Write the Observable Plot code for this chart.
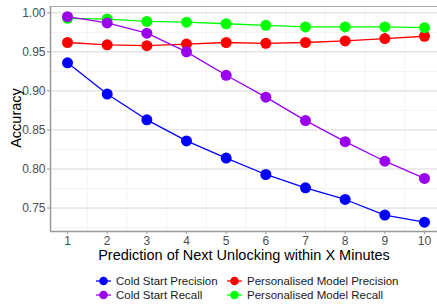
<!DOCTYPE html>
<html>
<head>
<meta charset="utf-8">
<script src="https://cdn.jsdelivr.net/npm/d3@7"></script>
<script src="https://cdn.jsdelivr.net/npm/@observablehq/plot@0.6"></script>
<style>
  body { margin: 0; background: #fff; font-family: "Liberation Sans", Arial, sans-serif; }
  #wrap { width: 437px; height: 307px; position: relative; }
  .legend { position: absolute; left: 0; top: 274px; width: 437px; font-size: 11.5px; color: #1a1a1a; }
  .item { position: absolute; display: flex; align-items: center; white-space: nowrap; height: 14px; }
  .item svg { margin-right: 4px; }
</style>
</head>
<body>
<div id="wrap"></div>
<script>
const minutes = [1, 2, 3, 4, 5, 6, 7, 8, 9, 10];
const seriesNames = ["Cold Start Precision", "Cold Start Recall", "Personalised Model Precision", "Personalised Model Recall"];
const seriesColors = ["#0000FF", "#9B00EE", "#FF0000", "#00FF00"];
const coldStartPrecision = [0.936, 0.896, 0.863, 0.836, 0.814, 0.793, 0.776, 0.761, 0.741, 0.732];
const coldStartRecall = [0.995, 0.987, 0.974, 0.950, 0.920, 0.892, 0.862, 0.835, 0.810, 0.788];
const personalisedPrecision = [0.962, 0.959, 0.958, 0.960, 0.962, 0.961, 0.962, 0.964, 0.967, 0.970];
const personalisedRecall = [0.993, 0.992, 0.989, 0.988, 0.986, 0.984, 0.982, 0.982, 0.982, 0.981];
const yTicks = [0.75, 0.80, 0.85, 0.90, 0.95, 1.00];
const yMinor = [0.725, 0.775, 0.825, 0.875, 0.925, 0.975];
const xMinor = [1.5, 2.5, 3.5, 4.5, 5.5, 6.5, 7.5, 8.5, 9.5];

const allValues = [coldStartPrecision, coldStartRecall, personalisedPrecision, personalisedRecall];
const data = [];
allValues.forEach((vals, i) => vals.forEach((v, j) => data.push({series: seriesNames[i], x: minutes[j], y: v})));
// drawing order: blue, red, green, purple on top
const drawOrder = [0, 2, 3, 1];

const marks = [
  Plot.ruleY(yMinor, {stroke: "#ebebeb", strokeWidth: 0.6}),
  Plot.ruleX(xMinor, {stroke: "#ebebeb", strokeWidth: 0.6}),
  Plot.ruleY(yTicks, {stroke: "#cccccc", strokeWidth: 0.8}),
  Plot.ruleY([1.0081], {stroke: "#aaaaaa", strokeWidth: 1}),
  Plot.axisY({ticks: yTicks, tickFormat: d3.format(".2f"), tickSize: 3, tickPadding: 2, label: null, fontSize: 12, color: "#4d4d4d", stroke: "#999"}),
  Plot.axisX({ticks: minutes, tickFormat: d => String(d), tickSize: 3, tickPadding: 2, label: null, fontSize: 12, color: "#4d4d4d", stroke: "#999"}),
  Plot.ruleX([0.571], {stroke: "#999999", strokeWidth: 1.5}),
  Plot.ruleY([0.72], {stroke: "#999999", strokeWidth: 1.5}),
];
drawOrder.forEach(i => {
  const d = data.filter(r => r.series === seriesNames[i]);
  marks.push(Plot.line(d, {x: "x", y: "y", stroke: seriesColors[i], strokeWidth: 1.3}));
});
drawOrder.forEach(i => {
  const d = data.filter(r => r.series === seriesNames[i]);
  marks.push(Plot.dot(d, {x: "x", y: "y", fill: seriesColors[i], r: 5.5, stroke: "none"}));
});
marks.push(Plot.text(["Accuracy"], {frameAnchor: "left", textAnchor: "middle", lineAnchor: "middle", dx: -34, dy: -1, rotate: -90, fontSize: 14.5, fill: "#000"}));
marks.push(Plot.text(["Prediction of Next Unlocking within X Minutes"], {frameAnchor: "bottom", lineAnchor: "middle", dy: 24, fontSize: 14.5, fill: "#000"}));

const chart = Plot.plot({
  width: 437,
  height: 268,
  marginLeft: 50,
  marginRight: 0,
  marginTop: 6,
  marginBottom: 37,
  style: {fontFamily: "Liberation Sans, Arial, sans-serif", background: "#fff", overflow: "visible"},
  x: {domain: [0.571, 10.328]},
  y: {domain: [0.72, 1.0081]},
  marks
});
document.getElementById("wrap").appendChild(chart);

const legend = document.createElement("div");
legend.className = "legend";
const pos = [[95, 0], [95, 13.5], [226, 0], [226, 13.5]];
seriesNames.forEach((name, i) => {
  const it = document.createElement("div");
  it.className = "item";
  it.style.left = pos[i][0] + "px";
  it.style.top = pos[i][1] + "px";
  it.innerHTML = `<svg width="17" height="14"><line x1="1" x2="16" y1="7" y2="7" stroke="${seriesColors[i]}" stroke-width="1.3"/><circle cx="8.5" cy="7" r="4.3" fill="${seriesColors[i]}"/></svg>`;
  it.appendChild(document.createTextNode(name));
  legend.appendChild(it);
});
document.getElementById("wrap").appendChild(legend);
</script>
</body>
</html>
